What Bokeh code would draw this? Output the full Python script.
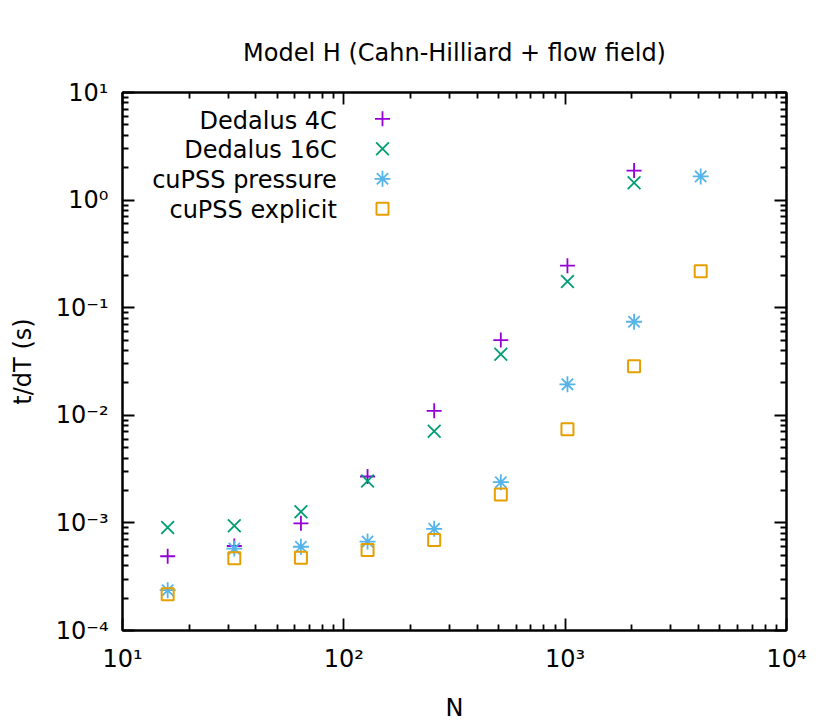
import math
from bokeh.plotting import figure
from bokeh.models import Range1d, FixedTicker, LogAxis, CustomJSTickFormatter, Label
from bokeh.embed import file_html
from bokeh.resources import INLINE

# ---------------- data ----------------
N_ded = [16, 32, 64, 128, 256, 512, 1024, 2048]
N_cu = [16, 32, 64, 128, 256, 512, 1024, 2048, 4096]
dedalus_4c = [4.9e-4, 6.1e-4, 9.9e-4, 2.7e-3, 1.1e-2, 5.0e-2, 0.246, 1.88]
dedalus_16c = [9.05e-4, 9.4e-4, 1.27e-3, 2.45e-3, 7.1e-3, 3.7e-2, 0.175, 1.45]
cupss_pressure = [2.37e-4, 5.77e-4, 6.0e-4, 6.7e-4, 8.8e-4, 2.39e-3, 1.94e-2, 7.4e-2, 1.66]
cupss_explicit = [2.17e-4, 4.7e-4, 4.75e-4, 5.6e-4, 6.95e-4, 1.84e-3, 7.4e-3, 2.85e-2, 0.218]

series_names = ["Dedalus 4C", "Dedalus 16C", "cuPSS pressure", "cuPSS explicit"]
series_colors = ["#9400d3", "#009e73", "#56b4e9", "#e69f00"]

x_ticks = [10, 100, 1000, 10000]
x_tick_labels = ["10\u00b9", "10\u00b2", "10\u00b3", "10\u2074"]
y_ticks = [1e-4, 1e-3, 1e-2, 1e-1, 1e0, 1e1]
y_tick_labels = ["10\u207b\u2074", "10\u207b\u00b3", "10\u207b\u00b2", "10\u207b\u00b9",
                 "10\u2070", "10\u00b9"]

title_text = "Model H (Cahn-Hilliard + flow field)"
xlabel = "N"
ylabel = "t/dT (s)"

FONT = "DejaVu Sans"
FS = "24px"

x_minor = [m * 10 ** e for e in range(1, 4) for m in range(2, 10)]
y_minor = [m * 10.0 ** e for e in range(-4, 1) for m in range(2, 10)]

FW, FH = 664, 538
p = figure(frame_width=FW, frame_height=FH,
           min_border_left=122, min_border_right=43,
           min_border_top=92, min_border_bottom=97,
           x_axis_type="log", y_axis_type="log",
           x_range=Range1d(10, 1e4), y_range=Range1d(1e-4, 1e1),
           output_backend="svg", toolbar_location=None, title=title_text,
           background_fill_color="white", border_fill_color="white")
p.xgrid.visible = False
p.ygrid.visible = False
p.outline_line_color = "black"
p.outline_line_width = 2

p.title.text_font = FONT
p.title.text_font_size = FS
p.title.text_font_style = "normal"
p.title.text_color = "black"
p.title.align = "center"
p.title.standoff = 51


def fmt(tvals, tlabels):
    return CustomJSTickFormatter(args=dict(tvals=tvals, tlabels=tlabels), code="""
        const lt = Math.log10(tick);
        for (let i = 0; i < tvals.length; i++) {
            if (Math.abs(Math.log10(tvals[i]) - lt) < 1e-6) return tlabels[i];
        }
        return '';
    """)


def style_axis(ax, tvals, minor, tlabels=None):
    ax.ticker = FixedTicker(ticks=tvals, minor_ticks=minor)
    ax.axis_line_width = 2
    ax.axis_line_color = "black"
    ax.major_tick_in = 12
    ax.major_tick_out = 0
    ax.minor_tick_in = 6
    ax.minor_tick_out = 0
    ax.major_tick_line_width = 1.8
    ax.minor_tick_line_width = 1.8
    if tlabels is None:
        ax.formatter = CustomJSTickFormatter(code="return ''")
        ax.major_label_text_font_size = "0px"
        ax.major_label_standoff = 0
    else:
        ax.formatter = fmt(tvals, tlabels)
        ax.major_label_text_font = FONT
        ax.major_label_text_font_size = FS
        ax.major_label_text_color = "black"
    ax.axis_label_text_font = FONT
    ax.axis_label_text_font_size = FS
    ax.axis_label_text_font_style = "normal"
    ax.axis_label_text_color = "black"


style_axis(p.xaxis[0], x_ticks, x_minor, x_tick_labels)
style_axis(p.yaxis[0], y_ticks, y_minor, y_tick_labels)
p.xaxis[0].major_label_standoff = 14
p.yaxis[0].major_label_standoff = 14
p.xaxis[0].axis_label = xlabel
p.yaxis[0].axis_label = ylabel
p.xaxis[0].axis_label_standoff = 18
p.yaxis[0].axis_label_standoff = 16

top_ax = LogAxis()
right_ax = LogAxis()
style_axis(top_ax, x_ticks, x_minor)
style_axis(right_ax, y_ticks, y_minor)
p.add_layout(top_ax, "above")
p.add_layout(right_ax, "right")

# ---------------- data markers ----------------
p.scatter(N_ded, dedalus_4c, marker="cross", size=15, line_color=series_colors[0], line_width=1.8)
p.scatter(N_ded, dedalus_16c, marker="x", size=18, line_color=series_colors[1], line_width=1.8)
p.scatter(N_cu, cupss_pressure, marker="asterisk", size=16, line_color=series_colors[2], line_width=1.8)
p.scatter(N_cu, cupss_explicit, marker="square", size=12, fill_color=None,
          line_color=series_colors[3], line_width=2)

# ---------------- legend (label left, sample right) ----------------
dec_x = FW / 3.0
dec_y = FH / 5.0
mk_x = 10 ** (1 + 260.0 / dec_x)
markers = ["cross", "x", "asterisk", "square"]
sizes = [15, 18, 16, 12]
for i, (nm, col, mk, sz) in enumerate(zip(series_names, series_colors, markers, sizes)):
    p.add_layout(Label(x=10, y=1e1, text=nm, x_offset=214.3, y_offset=-(28.3 + 29.6 * i),
                       text_align="right", text_baseline="alphabetic",
                       text_font=FONT, text_font_size=FS, text_color="black"))
    my = 10 ** (1 - (26.3 + 30.0 * i) / dec_y)
    if mk == "square":
        p.scatter([mk_x], [my], marker=mk, size=sz, fill_color=None, line_color=col, line_width=2)
    else:
        p.scatter([mk_x], [my], marker=mk, size=sz, line_color=col, line_width=1.8)

open("out.html", "w").write(file_html(p, INLINE))
